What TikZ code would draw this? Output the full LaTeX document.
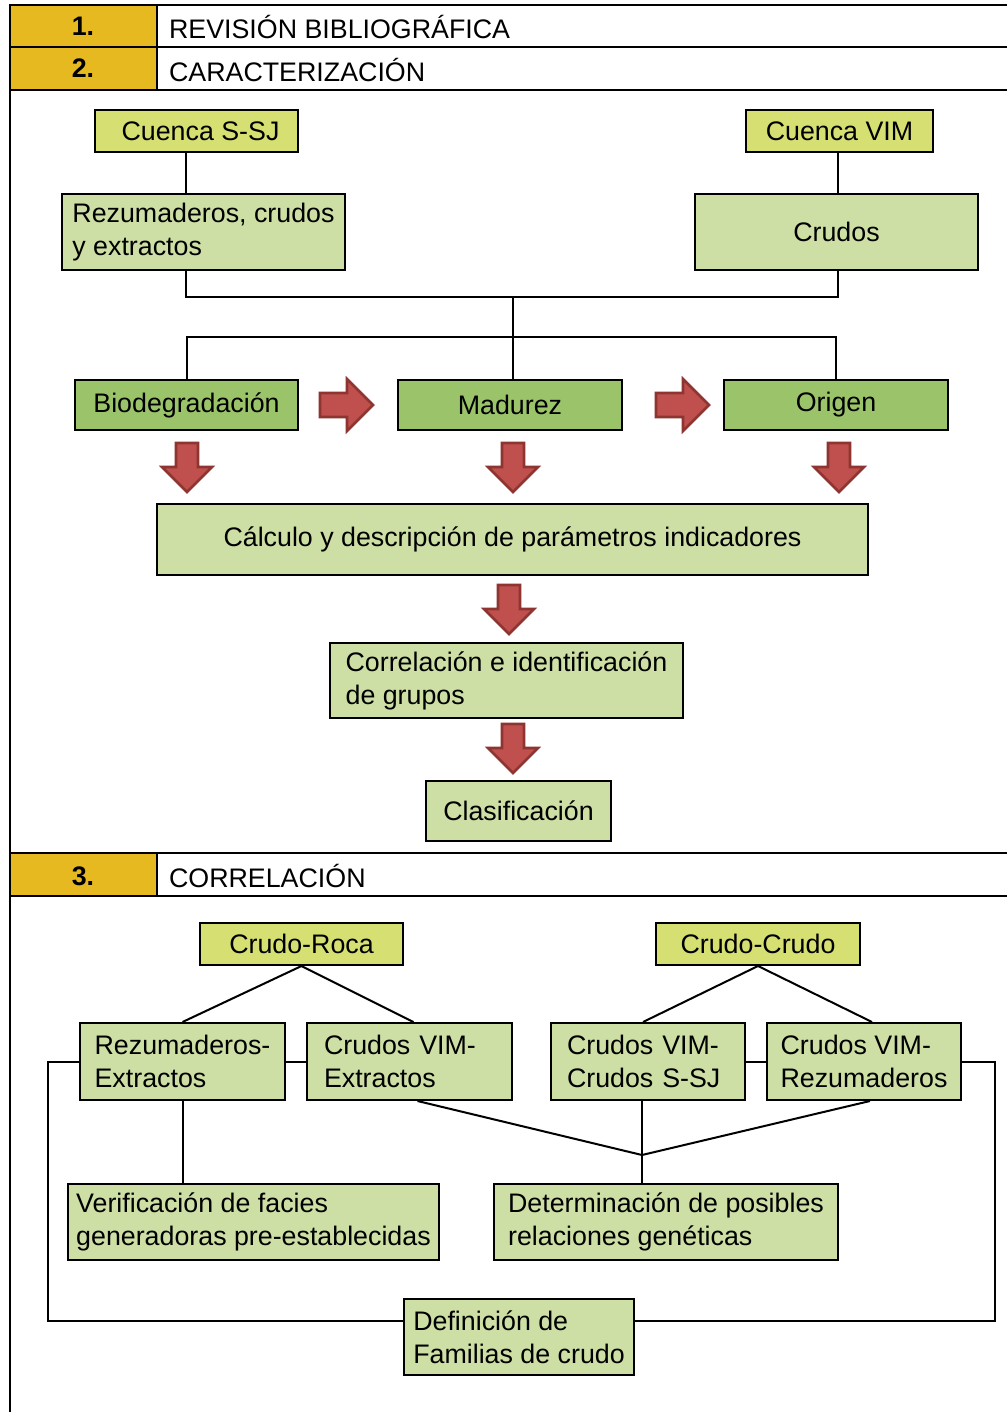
\documentclass[tikz,border=0pt]{standalone}
\usepackage{fontspec}
\setmainfont{Liberation Sans}
\definecolor{amarillo}{HTML}{E6B921}
\definecolor{limon}{HTML}{D6DF72}
\definecolor{verdeclaro}{HTML}{CDDFA4}
\definecolor{verde}{HTML}{9BC46A}
\definecolor{rojo}{HTML}{C0504D}
\definecolor{rojoborde}{HTML}{8E3431}
\tikzset{
  caja/.style={draw, line width=1pt, rectangle, inner sep=4pt,
    font=\fontsize{13.4}{16.5}\selectfont},
  cuenca/.style={caja, fill=limon},
  paso/.style={caja, fill=verdeclaro},
  factor/.style={caja, fill=verde},
  linea/.style={line width=1pt},
  marco/.style={line width=1.4pt}
}
\begin{document}
\begin{tikzpicture}[x=0.5pt, y=-0.5pt]
\useasboundingbox (0,0) rectangle (1007,1412);
% encabezados
\fill[amarillo] (10,5) rectangle (157,90);
\fill[amarillo] (10,853) rectangle (157,896);
\draw[marco] (1007,5) -- (10,5) -- (10,1412);
\draw[marco] (10,47) -- (1007,47);
\draw[marco] (10,90) -- (1007,90);
\draw[marco] (157,5) -- (157,90);
\draw[marco] (10,853) -- (1007,853);
\draw[marco] (10,896) -- (1007,896);
\draw[marco] (157,853) -- (157,896);
\node[font=\fontsize{13.4}{16}\selectfont\bfseries] (n1) at (83,26) {1.};
\node[font=\fontsize{13.4}{16}\selectfont\bfseries] (n2) at (83,68) {2.};
\node[font=\fontsize{13.4}{16}\selectfont\bfseries] (n3) at (83,876) {3.};
\node[anchor=west, font=\fontsize{13.4}{16}\selectfont] (t1) at (162,27) {REVISIÓN BIBLIOGRÁFICA};
\node[anchor=west, font=\fontsize{13.4}{16}\selectfont] (t2) at (162,70) {CARACTERIZACIÓN};
\node[anchor=west, font=\fontsize{13.4}{16}\selectfont] (t3) at (162,876) {CORRELACIÓN};

% caracterizacion
\node[cuenca, minimum width=101.5pt, minimum height=21pt] (cuencaS) at (196.5,131) {\hspace{4pt}Cuenca S-SJ};
\node[cuenca, minimum width=93.5pt, minimum height=21pt] (cuencaV) at (839.5,131) {Cuenca VIM};
\node[paso, minimum width=141.5pt, minimum height=38pt, align=left] (rezum) at (203.5,232) {Rezumaderos, crudos\\y extractos};
\node[paso, minimum width=141.5pt, minimum height=38pt] (crudos) at (836.5,232) {Crudos};
\node[factor, minimum width=111.5pt, minimum height=25pt] (bio) at (186.5,405) {Biodegradación};
\node[factor, minimum width=112pt, minimum height=25pt] (mad) at (510,405) {Madurez};
\node[factor, minimum width=112pt, minimum height=25pt] (orig) at (836,405) {Origen};
\node[paso, minimum width=355.5pt, minimum height=35.5pt] (calc) at (512.5,539.5) {Cálculo y descripción de parámetros indicadores};
\node[paso, minimum width=176.5pt, minimum height=35.5pt, align=left] (correl) at (506.5,680.5) {Correlación e identificación\\de grupos};
\node[paso, minimum width=92.5pt, minimum height=30pt] (clasif) at (518.5,811) {Clasificación};

\coordinate (j1) at (186,297);
\coordinate (j2) at (838,297);
\coordinate (j3) at (513,297);
\coordinate (j4) at (513,337);
\draw[linea] (cuencaS.south -| j1) -- (rezum.north -| j1);
\draw[linea] (cuencaV.south -| j2) -- (crudos.north -| j2);
\draw[linea] (rezum.south -| j1) -- (j1) -- (j2) -- (crudos.south -| j2);
\draw[linea] (j3) -- (j4);
\draw[linea] (bio.north) -- (bio.north |- j4) -- (orig.north |- j4) -- (orig.north);
\draw[linea] (j4) -- (mad.north -| j4);

% flechas gruesas
\foreach \cx/\ty in {187/443, 513/443, 839/443, 509/585, 513/724}
  \draw[fill=rojo, draw=rojoborde, line width=1.3pt]
    (\cx-11,\ty) -- (\cx+11,\ty) -- (\cx+11,\ty+24) -- (\cx+25,\ty+24)
    -- (\cx,\ty+49) -- (\cx-25,\ty+24) -- (\cx-11,\ty+24) -- cycle;
\foreach \lx/\cy in {320/405, 656/405}
  \draw[fill=rojo, draw=rojoborde, line width=1.3pt]
    (\lx,\cy-12) -- (\lx+27,\cy-12) -- (\lx+27,\cy-26) -- (\lx+53,\cy)
    -- (\lx+27,\cy+26) -- (\lx+27,\cy+12) -- (\lx,\cy+12) -- cycle;

% correlacion
\node[cuenca, minimum width=101.5pt, minimum height=21pt] (roca) at (301.5,944) {Crudo-Roca};
\node[cuenca, minimum width=102pt, minimum height=21pt] (ccrudo) at (758,944) {Crudo-Crudo};
\node[paso, minimum width=102.5pt, minimum height=38.5pt, align=left] (rezext) at (182.5,1061.5) {Rezumaderos-\\Extractos};
\node[paso, minimum height=38.5pt, inner xsep=8.5pt, text width=85.5pt, align=left] (vimext) at (409.5,1061.5) {Crudos VIM-\\Extractos};
\node[paso, minimum height=38.5pt, inner xsep=8pt, text width=81pt, align=left] (vimssj) at (648,1061.5) {Crudos VIM-\\Crudos S-SJ};
\node[paso, minimum width=97pt, minimum height=38.5pt, align=left] (vimrez) at (864,1061.5) {Crudos VIM-\\Rezumaderos};
\node[paso, minimum width=185.5pt, minimum height=38pt, align=left] (verif) at (253.5,1222) {Verificación de facies\\generadoras pre-establecidas};
\node[paso, minimum width=172pt, minimum height=38pt, align=left] (determ) at (666,1222) {Determinación de posibles\\relaciones genéticas};
\node[paso, minimum width=115pt, minimum height=38pt, align=left] (defin) at (519,1337) {Definición de\\Familias de crudo};

\coordinate (nudo) at (642,1155);
\coordinate (izq) at (48,1321);
\coordinate (der) at (995,1321);
\draw[linea] (roca.south) -- (rezext.north);
\draw[linea] (roca.south) -- ([xshift=2pt]vimext.north);
\draw[linea] (ccrudo.south) -- ([xshift=-2.5pt]vimssj.north);
\draw[linea] (ccrudo.south) -- ([xshift=4pt]vimrez.north);
\draw[linea] (rezext.east) -- (vimext.west);
\draw[linea] (vimssj.east) -- (vimrez.west);
\draw[linea] (rezext.south) -- (rezext.south |- verif.north);
\draw[linea] ([xshift=4pt]vimext.south) -- (nudo);
\draw[linea] ([xshift=3pt]vimrez.south) -- (nudo);
\draw[linea] (vimssj.south -| nudo) -- (nudo) -- (nudo |- determ.north);
\draw[linea] (rezext.west) -| (izq) -- (izq -| defin.west);
\draw[linea] (vimrez.east) -| (der) -- (der -| defin.east);
\end{tikzpicture}
\end{document}
